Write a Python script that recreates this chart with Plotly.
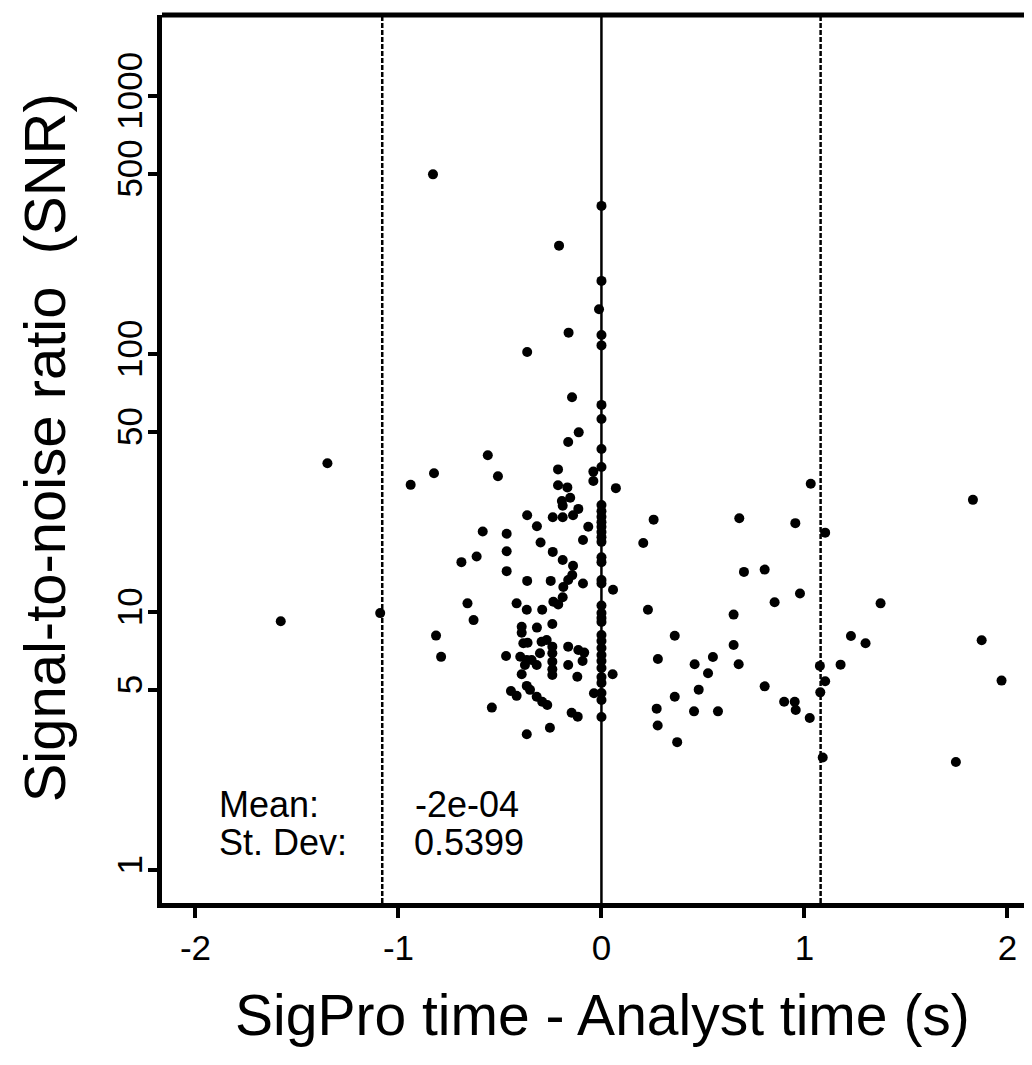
import plotly.graph_objects as go

# ---- data ----
# points left of zero (time offset s, SNR)
x_left = [-1.58, -1.35, -1.09, -0.83, -0.94, -0.825, -0.815, -0.79, -0.69, -0.66,
          -0.63, -0.615, -0.585, -0.56, -0.54, -0.51, -0.467, -0.467, -0.467, -0.47,
          -0.446, -0.418, -0.418, -0.40, -0.393, -0.393, -0.393, -0.385, -0.377, -0.368,
          -0.368, -0.368, -0.368, -0.366, -0.366, -0.366, -0.364, -0.352, -0.344, -0.319,
          -0.319, -0.318, -0.318, -0.303, -0.30, -0.295, -0.292, -0.292, -0.27, -0.267,
          -0.254, -0.25, -0.242, -0.242, -0.242, -0.242, -0.242, -0.242, -0.24, -0.24,
          -0.237, -0.214, -0.214, -0.213, -0.209, -0.195, -0.191, -0.191, -0.191, -0.191,
          -0.188, -0.168, -0.164, -0.164, -0.164, -0.164, -0.162, -0.154, -0.147, -0.145,
          -0.144, -0.14, -0.14, -0.119, -0.117, -0.114, -0.114, -0.112, -0.093, -0.091,
          -0.091, -0.085, -0.065, -0.04, -0.04, -0.037, -0.012]
snr_left = [9.2, 37.7, 9.9, 497, 31.1, 34.5, 8.1, 6.7, 15.6, 10.8,
            9.3, 16.4, 20.5, 40.5, 4.26, 33.6, 20.1, 17.2, 14.4, 6.75,
            4.94, 10.8, 4.73, 6.71, 8.77, 8.31, 5.74, 7.56, 6.23, 10.2,
            6.51, 5.17, 3.36, 23.7, 13.2, 101.8, 7.6, 4.99, 6.51, 6.23,
            4.69, 21.5, 8.7, 6.92, 18.6, 7.67, 10.2, 4.49, 7.79, 4.36,
            3.56, 13.2, 8.98, 7.34, 6.92, 6.42, 6.0, 5.7, 23.3, 17.1,
            10.96, 35.7, 31.0, 10.7, 263, 26.9, 25.8, 23.3, 15.9, 11.4,
            12.5, 30.4, 45.6, 13.3, 7.34, 6.23, 121, 27.7, 4.07, 68.0,
            13.9, 23.7, 15.1, 5.61, 3.93, 25.1, 7.12, 49.7, 6.46, 19.0,
            12.9, 6.96, 21.4, 35.0, 32.2, 4.84, 149]

# points exactly on zero
snr_zero = [375, 192, 118.5, 108, 63.5, 56.0, 42.8, 36.5, 26.0, 24.6,
            23.4, 22.3, 21.4, 20.4, 19.5, 18.7, 16.3, 15.6, 13.3, 12.9,
            10.6, 9.91, 9.48, 9.15, 8.14, 7.72, 7.25, 6.81, 6.46, 6.07,
            5.6, 5.31, 4.85, 4.56, 3.92]
x_zero = [0.0] * len(snr_zero)

# points right of zero
x_right = [0.071, 0.057, 0.055, 0.206, 0.229, 0.257, 0.272, 0.277, 0.278, 0.361,
           0.361, 0.373, 0.456, 0.459, 0.479, 0.525, 0.549, 0.574, 0.651, 0.651,
           0.676, 0.679, 0.702, 0.804, 0.804, 0.853, 0.90, 0.952, 0.955, 0.957,
           0.978, 1.026, 1.031, 1.076, 1.078, 1.09, 1.102, 1.102, 1.178, 1.229,
           1.301, 1.375, 1.746, 1.83, 1.873, 1.971]
snr_right = [30.2, 12.2, 5.74, 18.5, 10.2, 22.8, 4.22, 3.63, 6.57, 8.09,
             4.69, 3.13, 4.12, 6.27, 5.0, 5.79, 6.69, 4.12, 9.77, 7.45,
             6.27, 23.1, 14.3, 14.6, 5.15, 10.9, 4.49, 4.49, 22.1, 4.17,
             11.8, 3.88, 31.4, 6.18, 4.88, 2.73, 20.3, 5.39, 6.25, 8.07,
             7.56, 10.8, 2.62, 27.2, 7.77, 5.42]

MEAN = -2e-04
SD = 0.5399

x_ticks = [-2, -1, 0, 1, 2]
y_ticks = [1, 5, 10, 50, 100, 500, 1000]
y_ticktext = ["1", "5", "10", "50", "100", "500", "1000"]

FONT = "Liberation Sans, Arial, Helvetica, sans-serif"

x_all = x_left + x_zero + x_right
snr_all = snr_left + snr_zero + snr_right

fig = go.Figure()
fig.add_trace(go.Scatter(
    x=x_all, y=snr_all, mode="markers",
    marker=dict(color="black", size=10, line=dict(width=0)),
    showlegend=False, hoverinfo="skip",
))

# mean line and mean +/- 2 SD lines
fig.add_vline(x=MEAN, line=dict(color="black", width=2.5), layer="below")
fig.add_vline(x=MEAN - 2 * SD, line=dict(color="black", width=2.5, dash="5px,2px"), layer="below")
fig.add_vline(x=MEAN + 2 * SD, line=dict(color="black", width=2.5, dash="5px,2px"), layer="below")

# top frame line (right border is cut off in the reference)
fig.add_shape(type="line", xref="paper", yref="paper", x0=0, x1=1, y0=1, y1=1,
              line=dict(color="black", width=5))

ann_font = dict(family=FONT, size=36, color="black")
fig.add_annotation(x=-1.894, y=0.252, xref="x", yref="y", text="Mean:",
                   showarrow=False, xanchor="left", yanchor="middle", font=ann_font)
fig.add_annotation(x=-1.894, y=0.105, xref="x", yref="y", text="St. Dev:",
                   showarrow=False, xanchor="left", yanchor="middle", font=ann_font)
fig.add_annotation(x=-0.929, y=0.252, xref="x", yref="y", text=f"{MEAN:.0e}",
                   showarrow=False, xanchor="left", yanchor="middle", font=ann_font)
fig.add_annotation(x=-0.934, y=0.105, xref="x", yref="y", text=f"{SD}",
                   showarrow=False, xanchor="left", yanchor="middle", font=ann_font)

# axis titles
fig.add_annotation(x=0.506, y=-0.126, xref="paper", yref="paper",
                   text="SigPro time - Analyst time (s)", showarrow=False,
                   xanchor="center", yanchor="middle",
                   font=dict(family=FONT, size=57, color="black"))
fig.add_annotation(x=-0.1356, y=0.512, xref="paper", yref="paper",
                   text="Signal-to-noise ratio  (SNR)", showarrow=False, textangle=-90,
                   xanchor="center", yanchor="middle",
                   font=dict(family=FONT, size=58, color="black"))

fig.update_xaxes(
    range=[-2.165, 2.121], tickvals=x_ticks, ticktext=[str(v) for v in x_ticks],
    showgrid=False, zeroline=False, showline=True, linecolor="black", linewidth=5,
    ticks="outside", ticklen=10, tickwidth=3.5, tickcolor="black",
    tickfont=dict(family=FONT, size=35, color="black"), automargin=False,
)
fig.update_yaxes(
    type="log", range=[-0.128, 3.314], tickvals=y_ticks, ticktext=y_ticktext,
    tickangle=-90, ticklabelstandoff=-8,
    showgrid=False, zeroline=False, showline=True, linecolor="black", linewidth=5,
    ticks="outside", ticklen=9, tickwidth=3.5, tickcolor="black",
    tickfont=dict(family=FONT, size=35, color="black"), automargin=False,
)
# page body has an 8px default margin: shift figure up/left accordingly
fig.update_layout(
    width=1024, height=1057, autosize=False,
    margin=dict(l=154, r=0, t=7, b=162, pad=0),
    plot_bgcolor="white", paper_bgcolor="white",
    font=dict(family=FONT, color="black"),
)
fig.write_html("out.html")
